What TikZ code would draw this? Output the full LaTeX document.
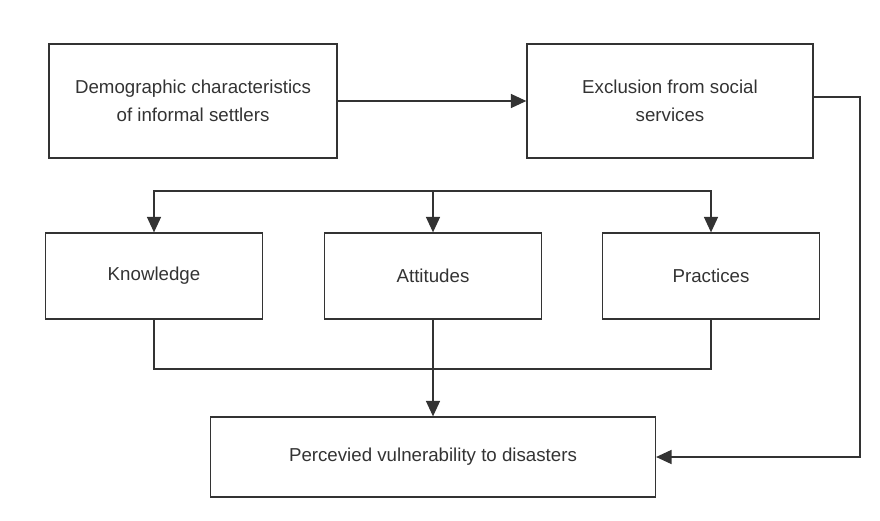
\documentclass[tikz,border=0pt]{standalone}
\usepackage{fontspec}
\setmainfont{Liberation Sans}
\usetikzlibrary{arrows.meta}
\definecolor{ink}{HTML}{333333}
\tikzset{
  block/.style={draw=ink, line width=0.9pt, text=ink, align=center, inner sep=0pt,
    font=\fontsize{13.3}{20}\selectfont},
  wide/.style={block, minimum width=7.2cm, minimum height=2.85cm},
  mid/.style={block, minimum width=5.42cm, minimum height=2.15cm},
  link/.style={draw=ink, line width=0.9pt},
  arr/.style={link, -{Triangle[length=11pt,width=10pt]}}
}
\begin{document}
\begin{tikzpicture}[x=0.025cm, y=-0.025cm]
    \useasboundingbox (0,0) rectangle (880,520);
    % top row
    \node[wide] (demo) at (193,101) {Demographic characteristics\\of informal settlers};
    \node[wide, minimum width=7.15cm] (excl) at (670,101) {Exclusion from social\\services};
    % middle row
    \node[mid] (know) at (154,276) {Knowledge};
    \node[mid] (att) at (433,276) {Attitudes};
    \node[mid] (prac) at (711,276) {Practices};
    % outcome
    \node[block, minimum width=11.12cm, minimum height=2cm] (vuln) at (433,457) {Percevied vulnerability to disasters};
    \coordinate (split) at (433,191);
    \coordinate (merge) at (433,369);
    \coordinate (turn) at (860,97);
    \draw[arr] (demo) -- (excl);
    \draw[arr] (split) -| (know.north);
    \draw[arr] (split) -| (prac.north);
    \draw[arr] (split) -- (att.north);
    \draw[link] (know.south) |- (merge) -| (prac.south);
    \draw[arr] (att.south) -- (vuln.north);
    \draw[arr] (excl.east |- turn) -- (turn) |- (vuln.east);
\end{tikzpicture}
\end{document}
